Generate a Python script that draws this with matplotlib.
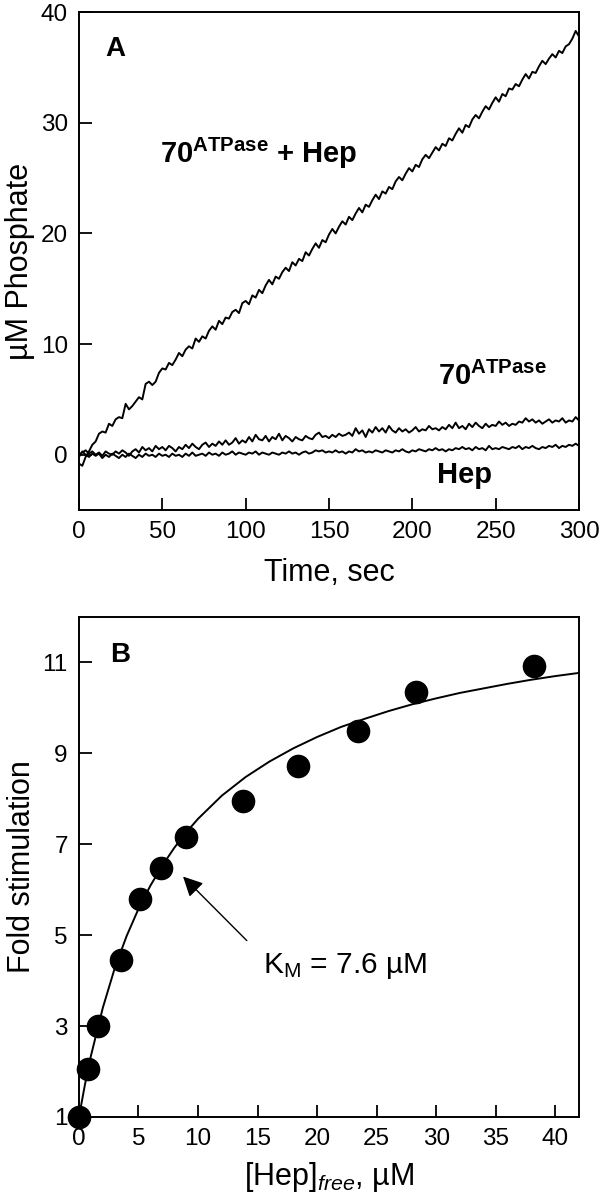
import numpy as np
import matplotlib
matplotlib.use("Agg")
import matplotlib.pyplot as plt

plt.rcParams['font.family'] = ['Liberation Sans', 'DejaVu Sans']
plt.rcParams['mathtext.fontset'] = 'custom'
plt.rcParams['mathtext.rm'] = 'Liberation Sans'
plt.rcParams['mathtext.bf'] = 'Liberation Sans:bold'
plt.rcParams['mathtext.it'] = 'Liberation Sans:italic'

# Panel A: phosphate release traces, sampled every 2 s from 0 to 300 s
hsp70_hep = [
    -0.8, -1.0, -0.2, 0.3, 0.9, 1.2, 1.9, 2.1, 2.0, 2.8,
    2.6, 3.2, 3.4, 3.3, 4.6, 4.1, 4.4, 4.8, 5.2, 5.0,
    6.4, 6.6, 6.3, 6.6, 7.4, 7.8, 7.7, 8.3, 8.1, 8.6,
    9.2, 8.9, 9.5, 9.8, 9.6, 10.5, 10.2, 10.7, 10.5, 11.2,
    11.6, 11.3, 12.1, 11.8, 12.4, 12.3, 12.9, 13.1, 12.8, 13.7,
    13.9, 13.6, 14.4, 14.2, 14.9, 14.6, 15.3, 15.8, 15.4, 16.1,
    15.9, 16.5, 16.9, 16.6, 17.4, 17.1, 17.7, 17.5, 18.3, 18.0,
    18.6, 19.1, 18.7, 19.4, 19.2, 19.9, 20.4, 20.0, 20.6, 21.1,
    20.8, 21.5, 21.2, 21.8, 22.3, 21.9, 22.6, 22.4, 23.0, 23.5,
    23.1, 23.8, 23.6, 24.2, 24.0, 24.7, 25.1, 24.8, 25.4, 25.9,
    25.6, 26.2, 26.0, 26.7, 27.1, 26.8, 27.3, 27.8, 27.5, 28.1,
    27.9, 28.6, 28.4, 29.0, 29.5, 29.1, 29.8, 29.6, 30.3, 30.7,
    30.4, 31.0, 31.5, 31.2, 31.8, 32.3, 31.9, 32.6, 32.4, 33.1,
    33.0, 33.5, 33.3, 33.9, 34.4, 34.0, 34.6, 34.5, 35.1, 35.6,
    35.3, 35.8, 36.2, 35.9, 36.5, 36.3, 36.9, 37.1, 37.6, 38.3,
    37.8,
]
hsp70_only = [
    0.0, 0.2, 0.4, 0.1, 0.3, 0.0, 0.2, -0.1, 0.3, 0.1,
    0.0, 0.3, 0.1, 0.4, 0.2, -0.1, 0.3, 0.5, 0.2, 0.7,
    0.4, 0.6, 0.3, 0.8, 0.5, 0.7, 0.4, 0.8, 0.6, 0.3,
    0.7, 0.5, 0.9, 0.6, 1.0, 0.7, 0.5, 0.9, 1.1, 0.7,
    1.0, 0.8, 1.2, 0.9, 1.3, 0.9, 1.1, 1.5, 1.0, 1.3,
    1.1, 1.6, 1.2, 1.8, 1.4, 1.3, 1.7, 1.2, 1.6, 1.4,
    1.9, 1.3, 1.7, 1.5, 1.2, 1.6, 1.4, 1.3, 1.7, 1.5,
    1.4, 1.8, 2.0, 1.6, 1.7, 1.5, 1.8, 1.6, 1.9, 1.7,
    1.8, 2.0, 1.7, 2.4, 1.9, 2.2, 1.6, 2.3, 2.0, 2.5,
    2.1, 2.4, 2.0, 2.6, 2.2, 2.0, 2.4, 2.1, 2.3, 2.0,
    2.2, 2.5, 2.1, 2.3, 2.2, 2.6, 2.3, 2.4, 2.2, 2.5,
    2.3, 2.7, 2.4, 2.9, 2.4, 2.6, 2.3, 2.8, 2.5, 2.9,
    2.6, 2.4, 2.8, 2.5, 2.7, 2.6, 3.0, 2.7, 2.9, 2.6,
    2.8, 2.7, 3.0, 2.9, 3.3, 3.0, 3.2, 2.9, 3.1, 2.8,
    3.0, 3.2, 2.9, 3.1, 3.0, 3.3, 2.9, 3.1, 3.0, 3.4,
    3.1,
]
hep_only = [
    -0.2, 0.3, 0.0, -0.2, 0.1, -0.1, 0.1, -0.3, 0.0, -0.2,
    0.1, -0.1, -0.3, 0.0, -0.2, 0.1, -0.1, -0.3, 0.0, -0.2,
    0.1, -0.1, 0.0, -0.2, 0.1, -0.1, 0.0, -0.2, 0.1, -0.1,
    0.0, -0.2, 0.1, -0.1, 0.2, -0.1, 0.0, 0.1, -0.1, 0.2,
    0.0, 0.1, -0.1, 0.2, 0.0, 0.1, 0.3, 0.0, 0.2, 0.1,
    0.0, 0.2, 0.1, 0.3, 0.0, 0.2, 0.1, 0.0, 0.2, 0.1,
    0.0, 0.2, 0.1, 0.3, 0.1, 0.2, 0.0, 0.2, 0.3, 0.1,
    0.2, 0.4, 0.3, 0.4, 0.2, 0.3, 0.2, 0.4, 0.2, 0.3,
    0.1, 0.3, 0.2, 0.5, 0.3, 0.4, 0.2, 0.3, 0.2, 0.4,
    0.3, 0.2, 0.4, 0.3, 0.2, 0.4, 0.3, 0.5, 0.3, 0.2,
    0.4, 0.3, 0.5, 0.4, 0.3, 0.5, 0.4, 0.6, 0.4, 0.5,
    0.3, 0.5, 0.4, 0.6, 0.5, 0.7, 0.5, 0.6, 0.4, 0.7,
    0.5, 0.6, 0.4, 0.8, 0.5, 0.6, 0.5, 0.7, 0.6, 0.5,
    0.7, 0.6, 0.8, 0.5, 0.7, 0.6, 0.8, 0.6, 0.5, 0.7,
    0.6, 0.8, 0.7, 0.9, 0.6, 0.8, 0.7, 0.9, 0.8, 1.0,
    0.8,
]

# Panel B: fold stimulation vs free heparin
hep_free = [0.0, 0.8, 1.6, 3.5, 5.1, 6.9, 9.0, 13.8, 18.4, 23.4, 28.3, 38.2]
fold_stim = [1.0, 2.05, 3.0, 4.45, 5.8, 6.48, 7.17, 7.95, 8.72, 9.5, 10.34, 10.93]

fit_x = [0, 0.5, 1, 2, 3, 4, 5, 6, 7, 8, 9, 10, 12, 14, 16, 18, 20,
         22, 24, 26, 28, 30, 32, 34, 36, 38, 40, 42]
fit_y = [1.0, 1.71, 2.34, 3.40, 4.27, 4.98, 5.58, 6.09, 6.53, 6.92, 7.26,
         7.56, 8.07, 8.48, 8.82, 9.11, 9.36, 9.58, 9.76, 9.93, 10.08, 10.21,
         10.33, 10.43, 10.53, 10.62, 10.70, 10.77]

fig = plt.figure(figsize=(6.01, 11.99), dpi=100)
ax1 = fig.add_axes([0.1314, 0.5746, 0.832, 0.4153])
ax2 = fig.add_axes([0.1314, 0.0684, 0.832, 0.417])

tick_kw = dict(direction='in', length=9, width=1.3, labelsize=17.5, pad=8)

# ---- Panel A
t = np.linspace(0, 300, len(hsp70_hep))
for trace in (hsp70_hep, hsp70_only, hep_only):
    ax1.plot(t, trace, color='k', lw=1.4)

ax1.set_xlim(0, 300)
ax1.set_ylim(-5, 40)
ax1.set_xticks([0, 50, 100, 150, 200, 250, 300])
ax1.set_yticks([0, 10, 20, 30, 40])
ax1.set_xlabel('Time, sec', fontsize=22, labelpad=11)
ax1.set_ylabel('µM Phosphate', fontsize=22)
ax1.tick_params(**tick_kw)

ax1.text(15.7, 36.0, 'A', fontsize=20, fontweight='bold', va='baseline')
ax1.text(48.8, 26.4, r'70$^{\mathbf{ATPase}}$ + Hep', fontsize=21,
         fontweight='bold', va='baseline')
ax1.text(215.7, 6.3, r'70$^{\mathbf{ATPase}}$', fontsize=21,
         fontweight='bold', va='baseline')
ax1.text(214.8, -2.53, 'Hep', fontsize=21, fontweight='bold', va='baseline')

# ---- Panel B
ax2.plot(fit_x, fit_y, color='k', lw=1.4, zorder=2)
ax2.plot(hep_free, fold_stim, 'o', color='k', markersize=16, zorder=3,
         clip_on=False)

ax2.set_xlim(0, 42)
ax2.set_ylim(1, 12)
ax2.set_xticks(range(0, 41, 5))
ax2.set_yticks([1, 3, 5, 7, 9, 11])
ax2.set_xlabel(r'[Hep]$_{\mathit{free}}$, µM', fontsize=22, labelpad=7)
ax2.set_ylabel('Fold stimulation', fontsize=22)
ax2.tick_params(**tick_kw)

ax2.text(2.6, 11.0, 'B', fontsize=20, fontweight='bold', va='baseline')
ax2.annotate('', xy=(8.74, 6.29), xytext=(14.1, 4.88),
             arrowprops=dict(arrowstyle='-|>', color='k', lw=1.0,
                             mutation_scale=30, shrinkA=0, shrinkB=0))
ax2.text(15.46, 4.17, r'K$_\mathregular{M}$ = 7.6 µM', fontsize=21.5,
         va='baseline')

for ax in (ax1, ax2):
    for sp in ax.spines.values():
        sp.set_linewidth(1.4)

fig.savefig('out.png', dpi=100)
